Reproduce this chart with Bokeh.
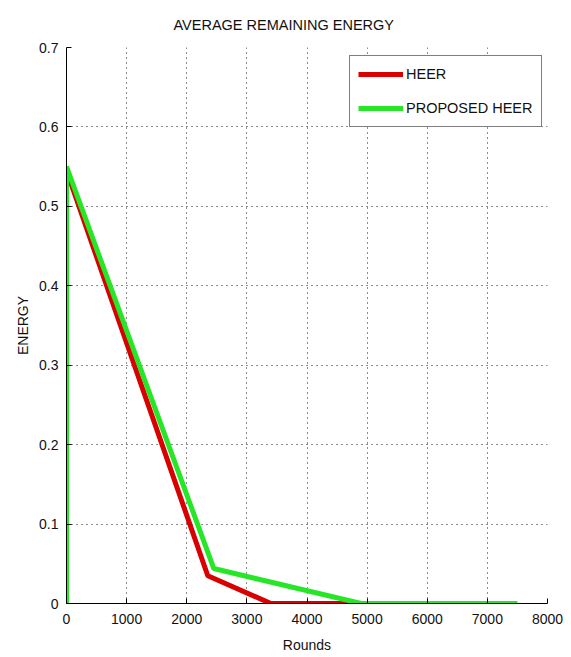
from bokeh.plotting import figure
from bokeh.models import FixedTicker, Range1d, Legend, LegendItem
from bokeh.embed import file_html
from bokeh.resources import INLINE

# ---- data ----
title_text = "AVERAGE REMAINING ENERGY"
x_label = "Rounds"
y_label = "ENERGY"

heer_rounds = [0, 2350, 3400, 4700]
heer_energy = [0.545, 0.035, 0.0, 0.0]

prop_rounds = [0, 0, 2450, 4900, 7500]
prop_energy = [0.0, 0.55, 0.044, 0.0, 0.0]

series_names = ["HEER", "PROPOSED HEER"]

x_ticks = [0, 1000, 2000, 3000, 4000, 5000, 6000, 7000, 8000]
y_ticks = [0, 0.1, 0.2, 0.3, 0.4, 0.5, 0.6, 0.7]
y_tick_labels = ["0", "0.1", "0.2", "0.3", "0.4", "0.5", "0.6", "0.7"]

FONT = "Liberation Sans, Arial, sans-serif"

p = figure(frame_width=481, frame_height=556,
           min_border_left=66, min_border_right=16,
           min_border_top=47, min_border_bottom=53,
           x_range=Range1d(x_ticks[0], x_ticks[-1]),
           y_range=Range1d(y_ticks[0], y_ticks[-1]),
           output_backend="svg", toolbar_location=None,
           title=title_text)

p.title.text_font = FONT
p.title.text_font_size = "14.5px"
p.title.text_font_style = "normal"
p.title.align = "left"
p.title.offset = 107
p.title.standoff = 29
p.title.text_color = "#111111"

p.outline_line_color = None
p.background_fill_color = "white"
p.border_fill_color = "white"

for ax in (p.xaxis[0], p.yaxis[0]):
    ax.axis_line_color = "black"
    ax.major_tick_line_color = "black"
    ax.major_tick_in = 5
    ax.major_tick_out = 0
    ax.minor_tick_line_color = None
    ax.major_label_text_font = FONT
    ax.major_label_text_font_size = "14px"
    ax.major_label_text_color = "#111111"
    ax.axis_label_text_font = FONT
    ax.axis_label_text_font_size = "14px"
    ax.axis_label_text_font_style = "normal"
    ax.axis_label_text_color = "#111111"

p.xaxis.major_label_standoff = 10
p.xaxis.axis_label_standoff = 10
p.yaxis.major_label_standoff = 8
p.yaxis.axis_label_standoff = 5

p.xaxis.ticker = FixedTicker(ticks=x_ticks)
p.yaxis.ticker = FixedTicker(ticks=y_ticks)
p.yaxis.major_label_overrides = dict(zip(y_ticks, y_tick_labels))
p.xaxis.axis_label = x_label
p.yaxis.axis_label = y_label

for g in (p.xgrid[0], p.ygrid[0]):
    g.grid_line_color = "black"
    g.grid_line_dash = "1 4"
    g.grid_line_alpha = 0.9
    g.grid_line_width = 1

r_heer = p.line(heer_rounds, heer_energy, line_color="#d80000", line_width=5)
r_prop = p.line(prop_rounds, prop_energy, line_color="#27e627", line_width=5)

legend = Legend(items=[LegendItem(label=series_names[0], renderers=[r_heer]),
                       LegendItem(label=series_names[1], renderers=[r_prop])],
                location=(283, 476))
legend.label_text_font = FONT
legend.label_text_font_size = "14.5px"
legend.label_text_color = "#111111"
legend.glyph_width = 45
legend.glyph_height = 20
legend.label_height = 20
legend.label_standoff = 3
legend.spacing = 14
legend.padding = 8
legend.margin = 0
legend.border_line_color = "black"
legend.border_line_width = 1
legend.background_fill_color = "white"
legend.background_fill_alpha = 1
p.add_layout(legend, "center")

open("out.html", "w").write(file_html(p, INLINE))
